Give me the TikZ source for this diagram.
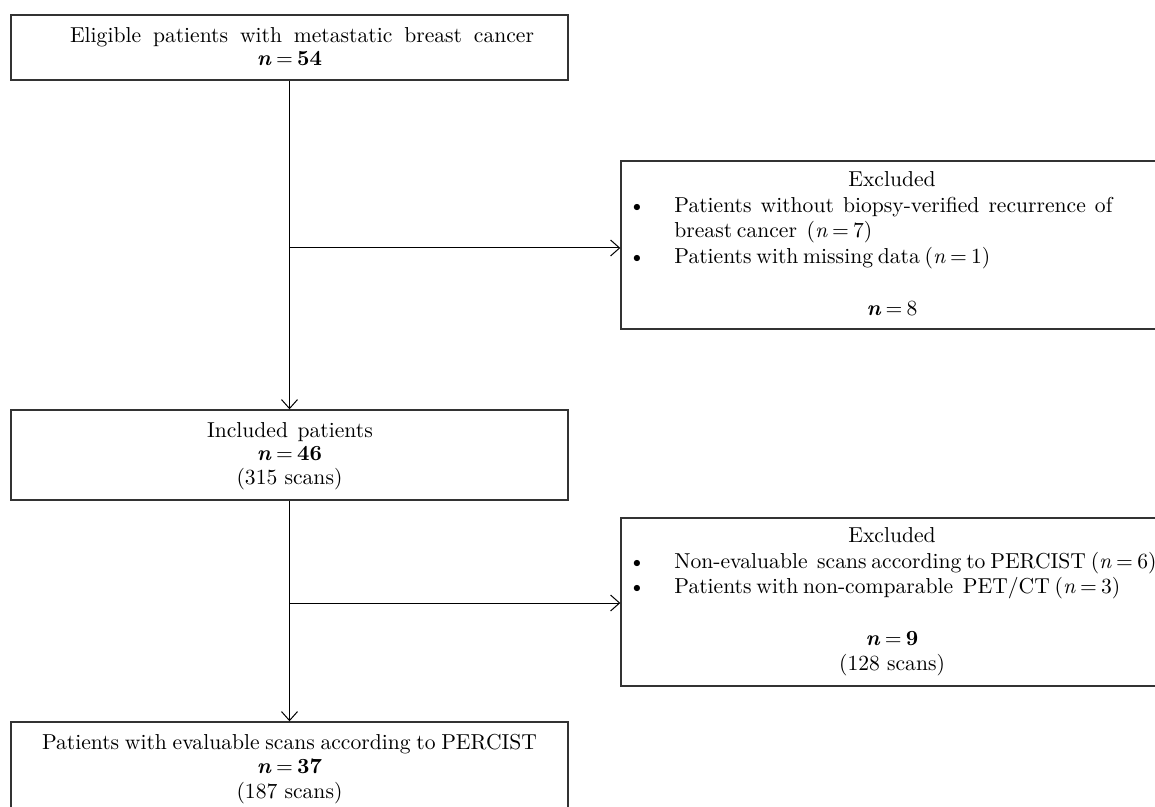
\documentclass[tikz,border=0pt]{standalone}
\usetikzlibrary{arrows.meta,fit}
\newcommand{\nbold}{\textbf{\textit{n}}\hspace{0.2em}=\hspace{0.2em}}
\newcommand{\nital}{\textit{n}\hspace{0.2em}=\hspace{0.2em}}
\begin{document}
\begin{tikzpicture}[x=0.5pt,y=-0.5pt,
  box/.style={draw=black!80, line width=0.7pt, inner sep=0pt},
  lbl/.style={anchor=base, inner sep=0pt, font=\fontsize{10.8}{13}\selectfont},
  lbll/.style={lbl, anchor=base west},
  arr/.style={-{Straight Barb[length=4.5pt,width=8pt]}, line width=0.5pt}]
\useasboundingbox (0,0) rectangle (1155,807);

% boxes
\node[box, fit={(11,15) (568,80)}] (elig) {};
\node[box, fit={(621,161) (1163,329)}] (exc1) {};
\node[box, fit={(11,410) (568,500)}] (incl) {};
\node[box, fit={(621,518) (1163,686)}] (exc2) {};
\node[box, fit={(11,722) (568,815)}] (final) {};

% texts
\node[lbl] (eligA) at (302,43) {\makebox[232pt][s]{Eligible patients with metastatic breast cancer}};
\node[lbl] (eligB) at (289.5,66) {\nbold\textbf{54}};

\node[lbl] (exc1A) at (892,187) {Excluded};
\node[lbl] (exc1b1) at (637,213) {\textbullet};
\node[lbll] (exc1B) at (674,213) {\makebox[219pt][s]{Patients without biopsy-verified recurrence of}};
\node[lbll] (exc1C) at (674,238) {\makebox[84.5pt][s]{breast cancer\ \ (\nital7)}};
\node[lbl] (exc1b2) at (637,264) {\textbullet};
\node[lbll] (exc1D) at (674,264) {\makebox[157.5pt][s]{Patients with missing data (\nital1)}};
\node[lbl] (exc1E) at (892,315) {\nbold8};

\node[lbl] (inclA) at (288.5,437) {\makebox[81.5pt][s]{Included\ \ patients}};
\node[lbl] (inclB) at (289.5,460) {\nbold\textbf{46}};
\node[lbl] (inclC) at (289.5,484) {(315 scans)};

\node[lbl] (exc2A) at (892,542) {Excluded};
\node[lbl] (exc2b1) at (637,568) {\textbullet};
\node[lbll] (exc2B) at (674,568) {\makebox[238pt][s]{Non-evaluable\ \ scans according to PERCIST (\nital6)}};
\node[lbl] (exc2b2) at (637,593) {\textbullet};
\node[lbll] (exc2C) at (674,593) {\makebox[207pt][s]{Patients with non-comparable\ \ PET/CT (\nital3)}};
\node[lbl] (exc2D) at (892,645) {\nbold\textbf{9}};
\node[lbl] (exc2E) at (892,670) {(128 scans)};

\node[lbl] (finA) at (289.5,749) {\makebox[247.5pt][s]{Patients with evaluable scans according to PERCIST}};
\node[lbl] (finB) at (289.5,773) {\nbold\textbf{37}};
\node[lbl] (finC) at (289.5,798) {(187 scans)};

% connectors
\draw[arr] (elig.south) -- (incl.north);
\coordinate (b1) at (289.5,248);
\draw[arr] (b1) -- (b1 -| exc1.west);
\draw[arr] (incl.south) -- (final.north);
\coordinate (b2) at (289.5,603);
\draw[arr] (b2) -- (b2 -| exc2.west);
\end{tikzpicture}
\end{document}
